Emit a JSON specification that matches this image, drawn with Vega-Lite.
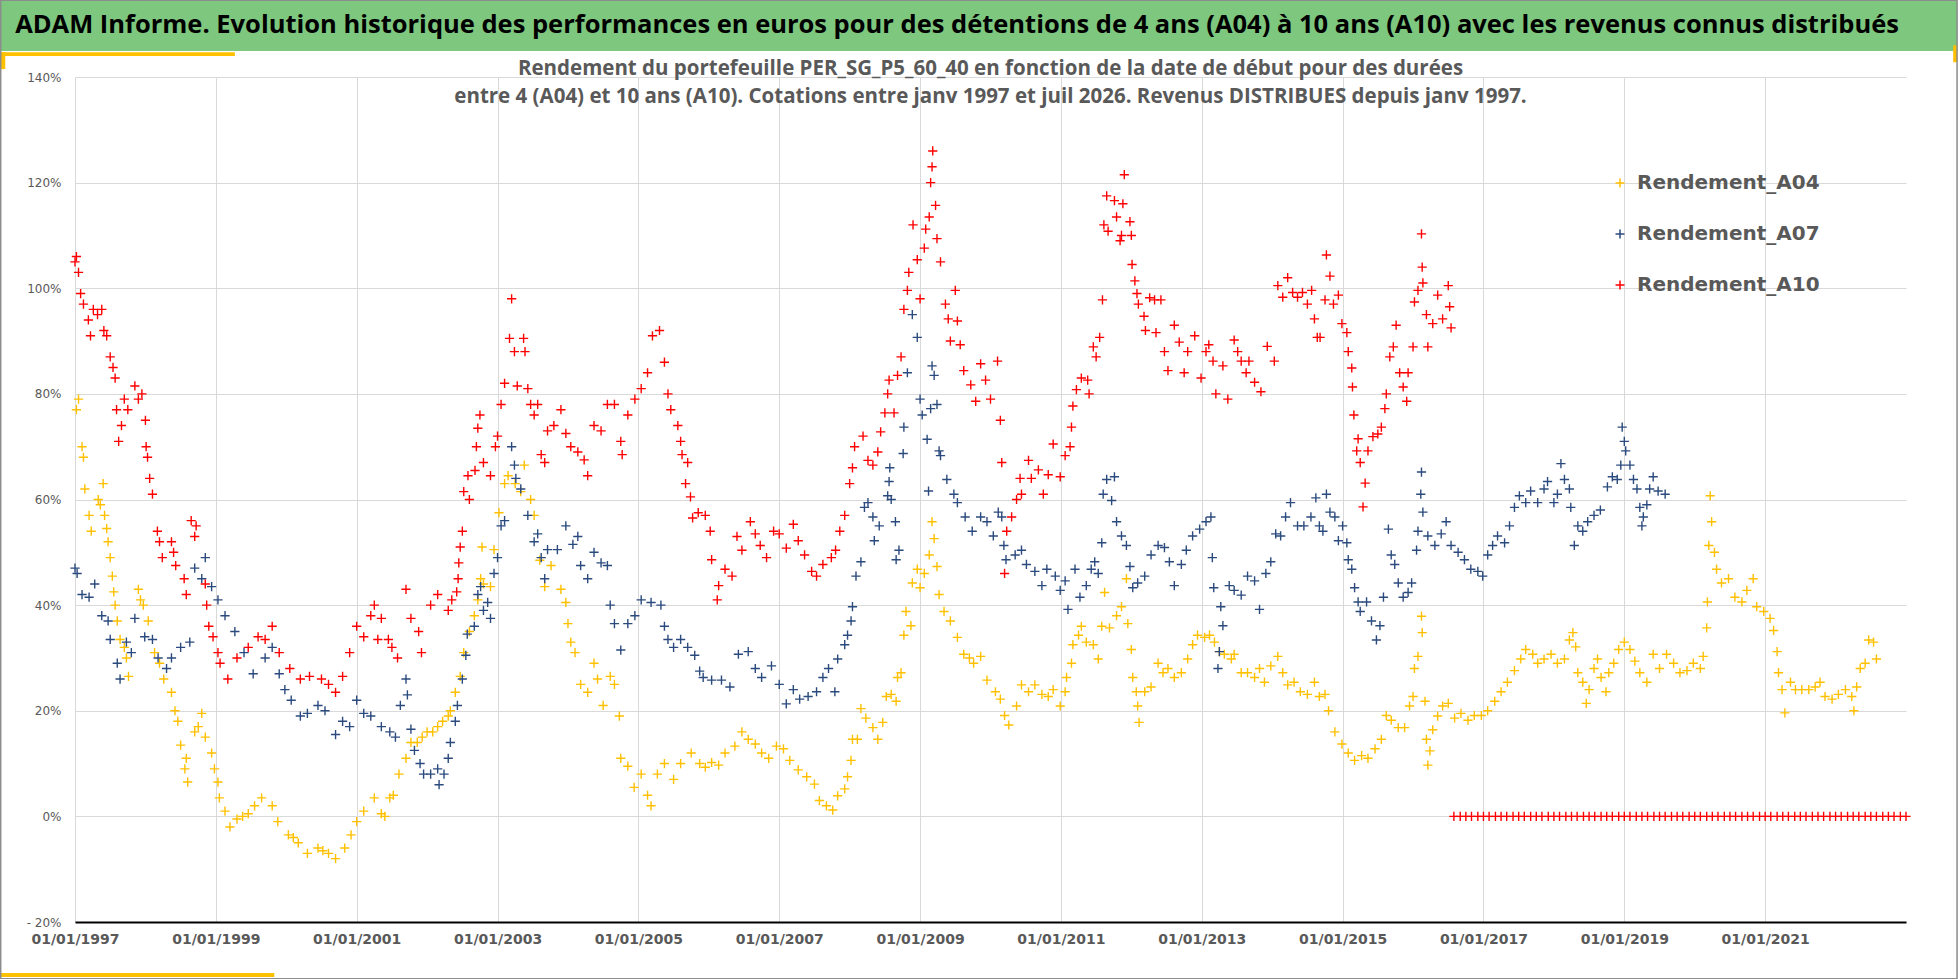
{
  "$schema": "https://vega.github.io/schema/vega-lite/v6.json",
  "width": 1831,
  "height": 845,
  "autosize": "none",
  "padding": {"left": 75, "top": 77, "right": 52, "bottom": 57},
  "background": "white",
  "config": {"view": {"stroke": null}},
  "datasets": {
    "a04": [
      {"t":1997.02,"v":77},{"t":1997.05,"v":79},{"t":1997.10,"v":70},{"t":1997.12,"v":68},{"t":1997.14,"v":62},{"t":1997.20,"v":57},{"t":1997.23,"v":54},{"t":1997.33,"v":60},{"t":1997.36,"v":59},{"t":1997.40,"v":63},{"t":1997.42,"v":57},{"t":1997.45,"v":54.5},{"t":1997.47,"v":52},{"t":1997.50,"v":49},{"t":1997.53,"v":45.5},{"t":1997.55,"v":42.5},{"t":1997.57,"v":40},{"t":1997.60,"v":37},{"t":1997.64,"v":33.5},{"t":1997.70,"v":32},{"t":1997.73,"v":30},{"t":1997.76,"v":26.5},{"t":1997.90,"v":43},{"t":1997.93,"v":41},{"t":1997.97,"v":40},{"t":1998.04,"v":37},{"t":1998.13,"v":31},{"t":1998.20,"v":29},{"t":1998.26,"v":26},{"t":1998.37,"v":23.5},{"t":1998.42,"v":20},{"t":1998.46,"v":18},{"t":1998.50,"v":13.5},{"t":1998.56,"v":9},{"t":1998.58,"v":11},{"t":1998.60,"v":6.5},{"t":1998.70,"v":16},{"t":1998.75,"v":17},{"t":1998.80,"v":19.5},{"t":1998.85,"v":15},{"t":1998.94,"v":12},{"t":1998.98,"v":9},{"t":1999.03,"v":6.5},{"t":1999.05,"v":3.5},{"t":1999.13,"v":1},{"t":1999.20,"v":-2},{"t":1999.30,"v":-0.5},{"t":1999.38,"v":0},{"t":1999.46,"v":0.5},{"t":1999.55,"v":2},{"t":1999.65,"v":3.5},{"t":1999.80,"v":2},{"t":1999.88,"v":-1},{"t":2000.03,"v":-3.5},{"t":2000.10,"v":-4},{"t":2000.17,"v":-5},{"t":2000.30,"v":-7},{"t":2000.45,"v":-6},{"t":2000.52,"v":-6.5},{"t":2000.60,"v":-7},{"t":2000.70,"v":-8},{"t":2000.83,"v":-6},{"t":2000.92,"v":-3.5},{"t":2001.00,"v":-1},{"t":2001.10,"v":1},{"t":2001.25,"v":3.5},{"t":2001.35,"v":0.5},{"t":2001.40,"v":0},{"t":2001.47,"v":3.5},{"t":2001.52,"v":4},{"t":2001.60,"v":8},{"t":2001.70,"v":11},{"t":2001.77,"v":14},{"t":2001.86,"v":14},{"t":2001.93,"v":15},{"t":2002.00,"v":16},{"t":2002.08,"v":16},{"t":2002.15,"v":17},{"t":2002.22,"v":18},{"t":2002.30,"v":19},{"t":2002.33,"v":20},{"t":2002.40,"v":23.5},{"t":2002.47,"v":26.5},{"t":2002.52,"v":31},{"t":2002.60,"v":35},{"t":2002.67,"v":38},{"t":2002.72,"v":41},{"t":2002.76,"v":45},{"t":2002.78,"v":51},{"t":2002.80,"v":44},{"t":2002.90,"v":43.5},{"t":2002.95,"v":50.5},{"t":2003.02,"v":57.5},{"t":2003.10,"v":63},{"t":2003.15,"v":64.5},{"t":2003.25,"v":63},{"t":2003.33,"v":61.5},{"t":2003.38,"v":66.5},{"t":2003.47,"v":60},{"t":2003.52,"v":57},{"t":2003.60,"v":48.5},{"t":2003.67,"v":43.5},{"t":2003.76,"v":47.5},{"t":2003.90,"v":43},{"t":2003.97,"v":40.5},{"t":2004.00,"v":36.5},{"t":2004.04,"v":33},{"t":2004.10,"v":31},{"t":2004.18,"v":25},{"t":2004.28,"v":23.5},{"t":2004.37,"v":29},{"t":2004.42,"v":26},{"t":2004.50,"v":21},{"t":2004.60,"v":26.5},{"t":2004.66,"v":25},{"t":2004.73,"v":19},{"t":2004.75,"v":11},{"t":2004.85,"v":9.5},{"t":2004.94,"v":5.5},{"t":2005.04,"v":8},{"t":2005.13,"v":4},{"t":2005.18,"v":2},{"t":2005.27,"v":8},{"t":2005.37,"v":10},{"t":2005.50,"v":7},{"t":2005.60,"v":10},{"t":2005.75,"v":12},{"t":2005.87,"v":10},{"t":2005.95,"v":9.3},{"t":2006.04,"v":10.2},{"t":2006.14,"v":9.7},{"t":2006.23,"v":12},{"t":2006.37,"v":13.3},{"t":2006.47,"v":16},{"t":2006.56,"v":14.6},{"t":2006.66,"v":13.7},{"t":2006.75,"v":12},{"t":2006.85,"v":11},{"t":2006.96,"v":13.3},{"t":2007.06,"v":12.8},{"t":2007.15,"v":10.6},{"t":2007.27,"v":8.8},{"t":2007.39,"v":7.5},{"t":2007.50,"v":6.1},{"t":2007.57,"v":3},{"t":2007.67,"v":2},{"t":2007.76,"v":1.2},{"t":2007.83,"v":3.9},{"t":2007.93,"v":5.2},{"t":2007.97,"v":7.5},{"t":2008.02,"v":10.6},{"t":2008.04,"v":14.6},{"t":2008.11,"v":14.6},{"t":2008.16,"v":20.4},{"t":2008.23,"v":18.6},{"t":2008.33,"v":16.8},{"t":2008.40,"v":14.6},{"t":2008.47,"v":17.8},{"t":2008.52,"v":22.7},{"t":2008.59,"v":23.1},{"t":2008.66,"v":21.8},{"t":2008.68,"v":26.3},{"t":2008.73,"v":27.2},{"t":2008.77,"v":34.3},{"t":2008.80,"v":38.8},{"t":2008.87,"v":36.1},{"t":2008.89,"v":44.2},{"t":2008.96,"v":46.8},{"t":2009.00,"v":43.3},{"t":2009.06,"v":46},{"t":2009.13,"v":49.5},{"t":2009.17,"v":55.8},{"t":2009.20,"v":52.6},{"t":2009.24,"v":47.3},{"t":2009.27,"v":42},{"t":2009.34,"v":38.8},{"t":2009.43,"v":37},{"t":2009.53,"v":33.9},{"t":2009.62,"v":30.7},{"t":2009.70,"v":30},{"t":2009.76,"v":29},{"t":2009.86,"v":30.3},{"t":2009.95,"v":25.8},{"t":2010.07,"v":23.6},{"t":2010.14,"v":22.2},{"t":2010.20,"v":19.1},{"t":2010.26,"v":17.3},{"t":2010.37,"v":20.9},{"t":2010.44,"v":24.9},{"t":2010.54,"v":23.6},{"t":2010.63,"v":24.9},{"t":2010.73,"v":23.1},{"t":2010.82,"v":22.7},{"t":2010.89,"v":24},{"t":2010.99,"v":20.9},{"t":2011.06,"v":23.6},{"t":2011.08,"v":26.3},{"t":2011.15,"v":29},{"t":2011.17,"v":32.5},{"t":2011.25,"v":34.3},{"t":2011.29,"v":36},{"t":2011.36,"v":33},{"t":2011.46,"v":32.5},{"t":2011.53,"v":29.8},{"t":2011.58,"v":36},{"t":2011.62,"v":42.4},{"t":2011.69,"v":35.7},{"t":2011.79,"v":38},{"t":2011.86,"v":39.7},{"t":2011.93,"v":45},{"t":2011.95,"v":36.5},{"t":2012.00,"v":31.6},{"t":2012.02,"v":26.3},{"t":2012.07,"v":23.6},{"t":2012.09,"v":20.9},{"t":2012.11,"v":17.8},{"t":2012.19,"v":23.6},{"t":2012.28,"v":24.5},{"t":2012.38,"v":29},{"t":2012.45,"v":27.2},{"t":2012.52,"v":28},{"t":2012.61,"v":26.3},{"t":2012.71,"v":27.2},{"t":2012.80,"v":29.8},{"t":2012.87,"v":32.5},{"t":2012.94,"v":34.3},{"t":2013.04,"v":33.9},{"t":2013.11,"v":34.3},{"t":2013.18,"v":33},{"t":2013.25,"v":31.2},{"t":2013.32,"v":30.7},{"t":2013.42,"v":29.8},{"t":2013.46,"v":30.7},{"t":2013.56,"v":27.2},{"t":2013.65,"v":27.2},{"t":2013.75,"v":26.3},{"t":2013.82,"v":28},{"t":2013.89,"v":25.4},{"t":2013.98,"v":28.5},{"t":2014.08,"v":30.3},{"t":2014.15,"v":27.2},{"t":2014.22,"v":24.9},{"t":2014.31,"v":25.4},{"t":2014.40,"v":23.6},{"t":2014.50,"v":23.1},{"t":2014.60,"v":25.4},{"t":2014.67,"v":22.7},{"t":2014.75,"v":23.1},{"t":2014.80,"v":20},{"t":2014.89,"v":16},{"t":2014.99,"v":13.7},{"t":2015.08,"v":12},{"t":2015.17,"v":10.6},{"t":2015.27,"v":11.5},{"t":2015.36,"v":11},{"t":2015.46,"v":12.8},{"t":2015.55,"v":14.6},{"t":2015.62,"v":19.1},{"t":2015.69,"v":18.2},{"t":2015.79,"v":16.8},{"t":2015.88,"v":16.8},{"t":2015.95,"v":20.9},{"t":2016.00,"v":22.7},{"t":2016.02,"v":28},{"t":2016.07,"v":30.3},{"t":2016.12,"v":37.9},{"t":2016.13,"v":34.8},{"t":2016.17,"v":21.8},{"t":2016.19,"v":14.6},{"t":2016.21,"v":9.7},{"t":2016.24,"v":12.4},{"t":2016.28,"v":16.4},{"t":2016.35,"v":19},{"t":2016.42,"v":20.9},{"t":2016.50,"v":21.4},{"t":2016.59,"v":18.6},{"t":2016.68,"v":19.5},{"t":2016.78,"v":18.2},{"t":2016.87,"v":19.1},{"t":2016.97,"v":19.1},{"t":2017.06,"v":20},{"t":2017.16,"v":21.8},{"t":2017.25,"v":23.6},{"t":2017.34,"v":25.4},{"t":2017.44,"v":27.6},{"t":2017.53,"v":29.8},{"t":2017.60,"v":31.6},{"t":2017.70,"v":30.7},{"t":2017.77,"v":29},{"t":2017.86,"v":29.8},{"t":2017.96,"v":30.7},{"t":2018.05,"v":29},{"t":2018.15,"v":29.8},{"t":2018.22,"v":33.4},{"t":2018.27,"v":34.8},{"t":2018.31,"v":32.1},{"t":2018.34,"v":27.2},{"t":2018.41,"v":25.4},{"t":2018.46,"v":21.4},{"t":2018.50,"v":24},{"t":2018.57,"v":28},{"t":2018.62,"v":29.8},{"t":2018.67,"v":26.3},{"t":2018.74,"v":23.6},{"t":2018.78,"v":27.2},{"t":2018.85,"v":29},{"t":2018.92,"v":31.6},{"t":2019.00,"v":33},{"t":2019.08,"v":31.6},{"t":2019.15,"v":29.4},{"t":2019.22,"v":27.2},{"t":2019.32,"v":25.4},{"t":2019.41,"v":30.7},{"t":2019.50,"v":28},{"t":2019.60,"v":30.7},{"t":2019.70,"v":29},{"t":2019.79,"v":27.2},{"t":2019.89,"v":27.6},{"t":2019.98,"v":29},{"t":2020.08,"v":28},{"t":2020.12,"v":30.3},{"t":2020.17,"v":35.7},{"t":2020.18,"v":40.6},{"t":2020.20,"v":51.3},{"t":2020.22,"v":60.7},{"t":2020.24,"v":55.8},{"t":2020.28,"v":50},{"t":2020.31,"v":46.8},{"t":2020.38,"v":44.2},{"t":2020.48,"v":45},{"t":2020.57,"v":41.5},{"t":2020.67,"v":40.6},{"t":2020.74,"v":42.8},{"t":2020.83,"v":45},{"t":2020.88,"v":39.7},{"t":2020.98,"v":38.8},{"t":2021.07,"v":37.5},{"t":2021.12,"v":35.2},{"t":2021.17,"v":31.2},{"t":2021.19,"v":27.2},{"t":2021.24,"v":24},{"t":2021.28,"v":19.6},{"t":2021.36,"v":25.4},{"t":2021.43,"v":24},{"t":2021.52,"v":24},{"t":2021.62,"v":24},{"t":2021.71,"v":24.5},{"t":2021.78,"v":25.4},{"t":2021.85,"v":22.7},{"t":2021.95,"v":22.2},{"t":2022.04,"v":23.1},{"t":2022.14,"v":24},{"t":2022.23,"v":22.7},{"t":2022.26,"v":20},{"t":2022.30,"v":24.5},{"t":2022.35,"v":28},{"t":2022.42,"v":29},{"t":2022.47,"v":33.4},{"t":2022.54,"v":33},{"t":2022.58,"v":29.8}
    ],
    "a07": [
      {"t":1997.00,"v":47},{"t":1997.03,"v":46},{"t":1997.10,"v":42},{"t":1997.20,"v":41.5},{"t":1997.28,"v":44},{"t":1997.38,"v":38},{"t":1997.47,"v":37},{"t":1997.50,"v":33.5},{"t":1997.60,"v":29},{"t":1997.64,"v":26},{"t":1997.73,"v":33},{"t":1997.80,"v":31},{"t":1997.85,"v":37.5},{"t":1997.99,"v":34},{"t":1998.10,"v":33.5},{"t":1998.18,"v":30},{"t":1998.30,"v":28},{"t":1998.37,"v":30},{"t":1998.50,"v":32},{"t":1998.63,"v":33},{"t":1998.70,"v":47},{"t":1998.80,"v":45},{"t":1998.85,"v":49},{"t":1998.94,"v":43.5},{"t":1999.03,"v":41},{"t":1999.13,"v":38},{"t":1999.27,"v":35},{"t":1999.40,"v":31},{"t":1999.53,"v":27},{"t":1999.70,"v":30},{"t":1999.80,"v":32},{"t":1999.90,"v":27},{"t":1999.98,"v":24},{"t":2000.07,"v":22},{"t":2000.20,"v":19},{"t":2000.30,"v":19.5},{"t":2000.45,"v":21},{"t":2000.55,"v":20},{"t":2000.70,"v":15.5},{"t":2000.80,"v":18},{"t":2000.90,"v":17},{"t":2001.00,"v":22},{"t":2001.10,"v":19.5},{"t":2001.20,"v":19},{"t":2001.35,"v":17},{"t":2001.47,"v":16},{"t":2001.55,"v":15},{"t":2001.62,"v":21},{"t":2001.70,"v":26},{"t":2001.72,"v":23},{"t":2001.77,"v":16.5},{"t":2001.82,"v":12.5},{"t":2001.90,"v":10},{"t":2001.95,"v":8},{"t":2002.05,"v":8},{"t":2002.15,"v":9},{"t":2002.17,"v":6},{"t":2002.24,"v":8},{"t":2002.30,"v":11},{"t":2002.33,"v":14},{"t":2002.40,"v":18},{"t":2002.43,"v":21},{"t":2002.50,"v":26},{"t":2002.55,"v":30.5},{"t":2002.57,"v":34.5},{"t":2002.67,"v":36},{"t":2002.72,"v":42},{"t":2002.76,"v":43.5},{"t":2002.80,"v":39},{"t":2002.86,"v":40.5},{"t":2002.90,"v":37.5},{"t":2002.95,"v":46},{"t":2003.00,"v":49},{"t":2003.05,"v":55},{"t":2003.10,"v":56},{"t":2003.20,"v":70},{"t":2003.24,"v":66.5},{"t":2003.26,"v":64},{"t":2003.33,"v":62},{"t":2003.43,"v":57},{"t":2003.52,"v":52},{"t":2003.57,"v":53.5},{"t":2003.62,"v":49},{"t":2003.67,"v":45},{"t":2003.71,"v":50.5},{"t":2003.85,"v":50.5},{"t":2003.97,"v":55},{"t":2004.07,"v":51.5},{"t":2004.14,"v":53},{"t":2004.18,"v":47.5},{"t":2004.28,"v":45},{"t":2004.37,"v":50},{"t":2004.47,"v":48},{"t":2004.56,"v":47.5},{"t":2004.60,"v":40},{"t":2004.66,"v":36.5},{"t":2004.75,"v":31.5},{"t":2004.85,"v":36.5},{"t":2004.95,"v":38},{"t":2005.04,"v":41},{"t":2005.18,"v":40.5},{"t":2005.32,"v":40},{"t":2005.37,"v":36},{"t":2005.42,"v":33.5},{"t":2005.50,"v":32},{"t":2005.60,"v":33.5},{"t":2005.70,"v":32},{"t":2005.80,"v":30.5},{"t":2005.87,"v":27.5},{"t":2005.92,"v":26.3},{"t":2006.04,"v":25.8},{"t":2006.18,"v":25.8},{"t":2006.30,"v":24.5},{"t":2006.42,"v":30.7},{"t":2006.56,"v":31.2},{"t":2006.66,"v":28},{"t":2006.75,"v":26.3},{"t":2006.89,"v":28.5},{"t":2007.00,"v":25},{"t":2007.10,"v":21.3},{"t":2007.20,"v":24},{"t":2007.29,"v":22.2},{"t":2007.41,"v":22.7},{"t":2007.53,"v":23.6},{"t":2007.62,"v":26.3},{"t":2007.70,"v":28},{"t":2007.79,"v":23.6},{"t":2007.83,"v":29.8},{"t":2007.93,"v":32.5},{"t":2007.97,"v":34.3},{"t":2008.02,"v":37},{"t":2008.04,"v":39.7},{"t":2008.09,"v":45.5},{"t":2008.16,"v":48.2},{"t":2008.21,"v":58.5},{"t":2008.26,"v":59.4},{"t":2008.33,"v":56.7},{"t":2008.35,"v":52.2},{"t":2008.42,"v":55},{"t":2008.54,"v":60.7},{"t":2008.56,"v":63.4},{"t":2008.57,"v":66},{"t":2008.59,"v":60},{"t":2008.65,"v":55.8},{"t":2008.66,"v":48.6},{"t":2008.70,"v":50.4},{"t":2008.76,"v":68.7},{"t":2008.77,"v":73.7},{"t":2008.82,"v":84},{"t":2008.89,"v":95},{"t":2008.96,"v":90.7},{"t":2009.00,"v":79},{"t":2009.03,"v":76},{"t":2009.10,"v":71.4},{"t":2009.12,"v":61.6},{"t":2009.15,"v":77.2},{"t":2009.17,"v":85.3},{"t":2009.20,"v":83.5},{"t":2009.24,"v":78},{"t":2009.27,"v":69.2},{"t":2009.29,"v":68.3},{"t":2009.38,"v":63.8},{"t":2009.48,"v":61},{"t":2009.53,"v":59.4},{"t":2009.64,"v":56.7},{"t":2009.74,"v":54},{"t":2009.86,"v":56.7},{"t":2009.95,"v":55.8},{"t":2010.04,"v":53.1},{"t":2010.11,"v":57.6},{"t":2010.16,"v":56.7},{"t":2010.19,"v":51.3},{"t":2010.22,"v":48.6},{"t":2010.35,"v":49.5},{"t":2010.44,"v":50.4},{"t":2010.51,"v":47.7},{"t":2010.63,"v":46.4},{"t":2010.73,"v":43.7},{"t":2010.80,"v":46.8},{"t":2010.92,"v":45.5},{"t":2010.99,"v":42.8},{"t":2011.06,"v":44.6},{"t":2011.10,"v":39.2},{"t":2011.20,"v":46.8},{"t":2011.27,"v":41.5},{"t":2011.36,"v":43.7},{"t":2011.43,"v":46.8},{"t":2011.48,"v":48.2},{"t":2011.53,"v":46},{"t":2011.58,"v":51.8},{"t":2011.60,"v":61},{"t":2011.65,"v":63.8},{"t":2011.72,"v":59.8},{"t":2011.76,"v":64.3},{"t":2011.79,"v":55.8},{"t":2011.86,"v":53.1},{"t":2011.93,"v":51.3},{"t":2011.98,"v":47.3},{"t":2012.02,"v":43.3},{"t":2012.09,"v":44.2},{"t":2012.19,"v":45.5},{"t":2012.28,"v":49.5},{"t":2012.38,"v":51.3},{"t":2012.47,"v":50.9},{"t":2012.54,"v":48.2},{"t":2012.61,"v":43.7},{"t":2012.71,"v":47.7},{"t":2012.78,"v":50.4},{"t":2012.87,"v":53.1},{"t":2012.97,"v":54.4},{"t":2013.06,"v":55.8},{"t":2013.13,"v":56.7},{"t":2013.15,"v":49},{"t":2013.17,"v":43.3},{"t":2013.23,"v":28},{"t":2013.25,"v":31.2},{"t":2013.27,"v":39.7},{"t":2013.30,"v":36.1},{"t":2013.39,"v":43.7},{"t":2013.46,"v":42.8},{"t":2013.56,"v":41.9},{"t":2013.65,"v":45.5},{"t":2013.75,"v":44.6},{"t":2013.82,"v":39.2},{"t":2013.91,"v":46},{"t":2013.98,"v":48.2},{"t":2014.05,"v":53.5},{"t":2014.12,"v":53.1},{"t":2014.19,"v":56.7},{"t":2014.26,"v":59.4},{"t":2014.36,"v":55},{"t":2014.45,"v":55},{"t":2014.55,"v":56.7},{"t":2014.62,"v":60.3},{"t":2014.67,"v":55},{"t":2014.72,"v":54},{"t":2014.77,"v":61},{"t":2014.82,"v":57.6},{"t":2014.89,"v":56.7},{"t":2014.94,"v":52.2},{"t":2015.00,"v":55},{"t":2015.06,"v":51.8},{"t":2015.08,"v":48.6},{"t":2015.13,"v":46.8},{"t":2015.17,"v":43.3},{"t":2015.22,"v":40.6},{"t":2015.25,"v":38.8},{"t":2015.34,"v":40.6},{"t":2015.41,"v":37},{"t":2015.48,"v":33.4},{"t":2015.53,"v":36.1},{"t":2015.58,"v":41.5},{"t":2015.65,"v":54.4},{"t":2015.69,"v":49.5},{"t":2015.74,"v":47.7},{"t":2015.79,"v":44.2},{"t":2015.86,"v":41.5},{"t":2015.93,"v":42.4},{"t":2015.98,"v":44.2},{"t":2016.05,"v":50.4},{"t":2016.07,"v":54},{"t":2016.11,"v":61},{"t":2016.12,"v":65.2},{"t":2016.14,"v":57.6},{"t":2016.21,"v":53.1},{"t":2016.31,"v":51.3},{"t":2016.40,"v":53.5},{"t":2016.47,"v":55.8},{"t":2016.54,"v":51.3},{"t":2016.64,"v":50},{"t":2016.73,"v":48.6},{"t":2016.82,"v":46.8},{"t":2016.92,"v":46.4},{"t":2016.99,"v":45.5},{"t":2017.06,"v":49.5},{"t":2017.13,"v":51.3},{"t":2017.20,"v":53.1},{"t":2017.30,"v":51.8},{"t":2017.37,"v":55},{"t":2017.44,"v":58.5},{"t":2017.51,"v":60.7},{"t":2017.60,"v":59.4},{"t":2017.67,"v":61.6},{"t":2017.77,"v":59.4},{"t":2017.86,"v":62},{"t":2017.91,"v":63.4},{"t":2018.00,"v":59.4},{"t":2018.05,"v":61},{"t":2018.10,"v":66.8},{"t":2018.15,"v":63.8},{"t":2018.22,"v":62},{"t":2018.24,"v":58.5},{"t":2018.29,"v":51.3},{"t":2018.34,"v":55},{"t":2018.41,"v":54},{"t":2018.48,"v":55.8},{"t":2018.57,"v":57},{"t":2018.66,"v":58},{"t":2018.76,"v":62.4},{"t":2018.83,"v":64.3},{"t":2018.90,"v":63.8},{"t":2018.95,"v":66.5},{"t":2018.97,"v":73.7},{"t":2019.00,"v":71},{"t":2019.02,"v":69.2},{"t":2019.08,"v":66.5},{"t":2019.13,"v":63.8},{"t":2019.18,"v":62},{"t":2019.22,"v":58.5},{"t":2019.25,"v":55},{"t":2019.27,"v":56.7},{"t":2019.32,"v":59},{"t":2019.36,"v":62},{"t":2019.41,"v":64.3},{"t":2019.48,"v":61.6},{"t":2019.58,"v":61}
    ],
    "a10": [
      {"t":1997.00,"v":105},{"t":1997.02,"v":106},{"t":1997.05,"v":103},{"t":1997.08,"v":99},{"t":1997.12,"v":97},{"t":1997.19,"v":94},{"t":1997.22,"v":91},{"t":1997.26,"v":96},{"t":1997.32,"v":95},{"t":1997.38,"v":96},{"t":1997.41,"v":92},{"t":1997.45,"v":91},{"t":1997.50,"v":87},{"t":1997.54,"v":85},{"t":1997.57,"v":83},{"t":1997.59,"v":77},{"t":1997.62,"v":71},{"t":1997.66,"v":74},{"t":1997.70,"v":79},{"t":1997.75,"v":77},{"t":1997.85,"v":81.5},{"t":1997.90,"v":79},{"t":1997.95,"v":80},{"t":1998.00,"v":75},{"t":1998.01,"v":70},{"t":1998.03,"v":68},{"t":1998.06,"v":64},{"t":1998.10,"v":61},{"t":1998.17,"v":54},{"t":1998.20,"v":52},{"t":1998.24,"v":49},{"t":1998.37,"v":52},{"t":1998.40,"v":50},{"t":1998.43,"v":47.5},{"t":1998.55,"v":45},{"t":1998.58,"v":42},{"t":1998.65,"v":56},{"t":1998.70,"v":53},{"t":1998.72,"v":55},{"t":1998.85,"v":44},{"t":1998.87,"v":40},{"t":1998.90,"v":36},{"t":1998.96,"v":34},{"t":1999.03,"v":31},{"t":1999.06,"v":29},{"t":1999.17,"v":26},{"t":1999.30,"v":30},{"t":1999.46,"v":32},{"t":1999.60,"v":34},{"t":1999.70,"v":33.5},{"t":1999.80,"v":36},{"t":1999.90,"v":31},{"t":2000.05,"v":28},{"t":2000.20,"v":26},{"t":2000.33,"v":26.5},{"t":2000.50,"v":26},{"t":2000.60,"v":25},{"t":2000.70,"v":23.5},{"t":2000.80,"v":26.5},{"t":2000.90,"v":31},{"t":2001.00,"v":36},{"t":2001.10,"v":34},{"t":2001.20,"v":38},{"t":2001.25,"v":40},{"t":2001.30,"v":33.5},{"t":2001.35,"v":37.5},{"t":2001.45,"v":33.5},{"t":2001.50,"v":32},{"t":2001.58,"v":30},{"t":2001.70,"v":43},{"t":2001.77,"v":37.5},{"t":2001.88,"v":35},{"t":2001.92,"v":31},{"t":2002.05,"v":40},{"t":2002.15,"v":42},{"t":2002.30,"v":39},{"t":2002.35,"v":41},{"t":2002.42,"v":42.5},{"t":2002.44,"v":45},{"t":2002.45,"v":48},{"t":2002.47,"v":51},{"t":2002.50,"v":54},{"t":2002.52,"v":61.5},{"t":2002.58,"v":64.5},{"t":2002.60,"v":60},{"t":2002.68,"v":65.5},{"t":2002.70,"v":70},{"t":2002.72,"v":73.5},{"t":2002.75,"v":76},{"t":2002.80,"v":67},{"t":2002.90,"v":64.5},{"t":2002.97,"v":70},{"t":2003.00,"v":72},{"t":2003.05,"v":78},{"t":2003.10,"v":82},{"t":2003.17,"v":90.5},{"t":2003.20,"v":98},{"t":2003.24,"v":88},{"t":2003.28,"v":81.5},{"t":2003.37,"v":90.5},{"t":2003.39,"v":88},{"t":2003.43,"v":81},{"t":2003.47,"v":78},{"t":2003.52,"v":76},{"t":2003.57,"v":78},{"t":2003.62,"v":68.5},{"t":2003.67,"v":67},{"t":2003.71,"v":73},{"t":2003.80,"v":74},{"t":2003.90,"v":77},{"t":2003.97,"v":72.5},{"t":2004.04,"v":70},{"t":2004.14,"v":69},{"t":2004.23,"v":67.5},{"t":2004.28,"v":64.5},{"t":2004.37,"v":74},{"t":2004.47,"v":73},{"t":2004.56,"v":78},{"t":2004.66,"v":78},{"t":2004.75,"v":71},{"t":2004.77,"v":68.5},{"t":2004.85,"v":76},{"t":2004.95,"v":79},{"t":2005.04,"v":81},{"t":2005.13,"v":84},{"t":2005.20,"v":91},{"t":2005.30,"v":92},{"t":2005.37,"v":86},{"t":2005.42,"v":80},{"t":2005.46,"v":77},{"t":2005.56,"v":74},{"t":2005.60,"v":71},{"t":2005.62,"v":68.5},{"t":2005.67,"v":63},{"t":2005.70,"v":67},{"t":2005.74,"v":60.5},{"t":2005.77,"v":56.5},{"t":2005.85,"v":57.5},{"t":2005.95,"v":57},{"t":2006.02,"v":54},{"t":2006.04,"v":48.6},{"t":2006.12,"v":41},{"t":2006.14,"v":43.7},{"t":2006.23,"v":46.8},{"t":2006.33,"v":45.5},{"t":2006.40,"v":53},{"t":2006.47,"v":50.4},{"t":2006.59,"v":55.8},{"t":2006.66,"v":53.5},{"t":2006.73,"v":51.3},{"t":2006.82,"v":49},{"t":2006.92,"v":54},{"t":2007.00,"v":53.5},{"t":2007.10,"v":50.8},{"t":2007.20,"v":55.3},{"t":2007.27,"v":52.2},{"t":2007.36,"v":49.5},{"t":2007.46,"v":46.4},{"t":2007.53,"v":45.5},{"t":2007.62,"v":47.7},{"t":2007.74,"v":49},{"t":2007.80,"v":50.4},{"t":2007.86,"v":54},{"t":2007.93,"v":57},{"t":2008.00,"v":63},{"t":2008.04,"v":66},{"t":2008.07,"v":70},{"t":2008.19,"v":72},{"t":2008.26,"v":67.4},{"t":2008.33,"v":66.5},{"t":2008.40,"v":69},{"t":2008.44,"v":72.8},{"t":2008.50,"v":76.4},{"t":2008.54,"v":80},{"t":2008.56,"v":82.6},{"t":2008.63,"v":76.4},{"t":2008.68,"v":83.5},{"t":2008.73,"v":87},{"t":2008.77,"v":96},{"t":2008.82,"v":99.6},{"t":2008.84,"v":103},{"t":2008.90,"v":112},{"t":2008.96,"v":105.4},{"t":2009.00,"v":98},{"t":2009.06,"v":107.6},{"t":2009.08,"v":111.2},{"t":2009.13,"v":113.5},{"t":2009.15,"v":120},{"t":2009.17,"v":123},{"t":2009.18,"v":126},{"t":2009.22,"v":115.7},{"t":2009.24,"v":109.4},{"t":2009.29,"v":105},{"t":2009.36,"v":97},{"t":2009.40,"v":94.2},{"t":2009.43,"v":90},{"t":2009.50,"v":99.6},{"t":2009.53,"v":93.8},{"t":2009.57,"v":89.3},{"t":2009.62,"v":84.4},{"t":2009.72,"v":81.7},{"t":2009.79,"v":78.6},{"t":2009.86,"v":85.7},{"t":2009.93,"v":82.6},{"t":2010.00,"v":79},{"t":2010.10,"v":86.2},{"t":2010.14,"v":75},{"t":2010.16,"v":67},{"t":2010.20,"v":46},{"t":2010.23,"v":54},{"t":2010.30,"v":56.7},{"t":2010.37,"v":60},{"t":2010.42,"v":64},{"t":2010.44,"v":61},{"t":2010.54,"v":67.4},{"t":2010.58,"v":64},{"t":2010.68,"v":65.6},{"t":2010.75,"v":61},{"t":2010.82,"v":64.7},{"t":2010.89,"v":70.5},{"t":2010.99,"v":64.3},{"t":2011.06,"v":68.3},{"t":2011.13,"v":70},{"t":2011.15,"v":73.7},{"t":2011.17,"v":77.7},{"t":2011.22,"v":80.8},{"t":2011.29,"v":83},{"t":2011.38,"v":82.6},{"t":2011.40,"v":80},{"t":2011.46,"v":88.9},{"t":2011.50,"v":87},{"t":2011.55,"v":90.7},{"t":2011.59,"v":97.8},{"t":2011.61,"v":112},{"t":2011.65,"v":117.5},{"t":2011.67,"v":110.8},{"t":2011.76,"v":116.6},{"t":2011.79,"v":113.5},{"t":2011.84,"v":109},{"t":2011.86,"v":110},{"t":2011.88,"v":116},{"t":2011.90,"v":121.5},{"t":2011.98,"v":112.6},{"t":2012.00,"v":110},{"t":2012.01,"v":104.5},{"t":2012.05,"v":101.4},{"t":2012.08,"v":99},{"t":2012.10,"v":97},{"t":2012.18,"v":94.7},{"t":2012.20,"v":92},{"t":2012.26,"v":98.2},{"t":2012.33,"v":97.8},{"t":2012.35,"v":91.6},{"t":2012.42,"v":97.8},{"t":2012.47,"v":88},{"t":2012.52,"v":84.4},{"t":2012.61,"v":93},{"t":2012.68,"v":89.8},{"t":2012.75,"v":84},{"t":2012.80,"v":88},{"t":2012.90,"v":91},{"t":2012.99,"v":83},{"t":2013.06,"v":88},{"t":2013.10,"v":89.3},{"t":2013.16,"v":86.2},{"t":2013.20,"v":80},{"t":2013.30,"v":85.3},{"t":2013.37,"v":79},{"t":2013.46,"v":90.2},{"t":2013.51,"v":88},{"t":2013.56,"v":86.2},{"t":2013.63,"v":84},{"t":2013.67,"v":86.2},{"t":2013.75,"v":82.2},{"t":2013.84,"v":80.4},{"t":2013.93,"v":89},{"t":2014.03,"v":86.2},{"t":2014.08,"v":100.5},{"t":2014.15,"v":98.3},{"t":2014.22,"v":102},{"t":2014.29,"v":99.2},{"t":2014.36,"v":98.3},{"t":2014.43,"v":99.2},{"t":2014.50,"v":97},{"t":2014.56,"v":99.6},{"t":2014.60,"v":94.2},{"t":2014.64,"v":90.7},{"t":2014.68,"v":90.7},{"t":2014.75,"v":97.8},{"t":2014.77,"v":106.3},{"t":2014.82,"v":102.3},{"t":2014.87,"v":97},{"t":2014.94,"v":98.7},{"t":2014.99,"v":93.3},{"t":2015.06,"v":91.6},{"t":2015.08,"v":88},{"t":2015.13,"v":84.9},{"t":2015.14,"v":81.3},{"t":2015.16,"v":76},{"t":2015.20,"v":69.2},{"t":2015.22,"v":71.5},{"t":2015.25,"v":67},{"t":2015.29,"v":58.6},{"t":2015.32,"v":63.1},{"t":2015.36,"v":69.2},{"t":2015.43,"v":71.9},{"t":2015.50,"v":72.4},{"t":2015.55,"v":73.7},{"t":2015.60,"v":77.2},{"t":2015.62,"v":80},{"t":2015.67,"v":87},{"t":2015.72,"v":88.9},{"t":2015.76,"v":93},{"t":2015.81,"v":84},{"t":2015.86,"v":81.3},{"t":2015.91,"v":78.6},{"t":2015.93,"v":84},{"t":2016.00,"v":88.9},{"t":2016.02,"v":97.4},{"t":2016.07,"v":99.6},{"t":2016.12,"v":110.3},{"t":2016.13,"v":104},{"t":2016.14,"v":101},{"t":2016.19,"v":95},{"t":2016.21,"v":88.9},{"t":2016.28,"v":93.3},{"t":2016.35,"v":98.7},{"t":2016.42,"v":94.2},{"t":2016.50,"v":100.5},{"t":2016.52,"v":96.5},{"t":2016.54,"v":92.5},
      {"t":2016.58,"v":0},{"t":2016.67,"v":0},{"t":2016.75,"v":0},{"t":2016.83,"v":0},{"t":2016.92,"v":0},
      {"t":2017.00,"v":0},{"t":2017.08,"v":0},{"t":2017.17,"v":0},{"t":2017.25,"v":0},{"t":2017.33,"v":0},{"t":2017.42,"v":0},{"t":2017.50,"v":0},{"t":2017.58,"v":0},{"t":2017.67,"v":0},{"t":2017.75,"v":0},{"t":2017.83,"v":0},{"t":2017.92,"v":0},
      {"t":2018.00,"v":0},{"t":2018.08,"v":0},{"t":2018.17,"v":0},{"t":2018.25,"v":0},{"t":2018.33,"v":0},{"t":2018.42,"v":0},{"t":2018.50,"v":0},{"t":2018.58,"v":0},{"t":2018.67,"v":0},{"t":2018.75,"v":0},{"t":2018.83,"v":0},{"t":2018.92,"v":0},
      {"t":2019.00,"v":0},{"t":2019.08,"v":0},{"t":2019.17,"v":0},{"t":2019.25,"v":0},{"t":2019.33,"v":0},{"t":2019.42,"v":0},{"t":2019.50,"v":0},{"t":2019.58,"v":0},{"t":2019.67,"v":0},{"t":2019.75,"v":0},{"t":2019.83,"v":0},{"t":2019.92,"v":0},
      {"t":2020.00,"v":0},{"t":2020.08,"v":0},{"t":2020.17,"v":0},{"t":2020.25,"v":0},{"t":2020.33,"v":0},{"t":2020.42,"v":0},{"t":2020.50,"v":0},{"t":2020.58,"v":0},{"t":2020.67,"v":0},{"t":2020.75,"v":0},{"t":2020.83,"v":0},{"t":2020.92,"v":0},
      {"t":2021.00,"v":0},{"t":2021.08,"v":0},{"t":2021.17,"v":0},{"t":2021.25,"v":0},{"t":2021.33,"v":0},{"t":2021.42,"v":0},{"t":2021.50,"v":0},{"t":2021.58,"v":0},{"t":2021.67,"v":0},{"t":2021.75,"v":0},{"t":2021.83,"v":0},{"t":2021.92,"v":0},
      {"t":2022.00,"v":0},{"t":2022.08,"v":0},{"t":2022.17,"v":0},{"t":2022.25,"v":0},{"t":2022.33,"v":0},{"t":2022.42,"v":0},{"t":2022.50,"v":0},{"t":2022.58,"v":0},{"t":2022.67,"v":0},{"t":2022.75,"v":0},{"t":2022.83,"v":0},{"t":2022.92,"v":0},
      {"t":2023.00,"v":0}
    ]
  },
  "layer": [
    {
      "data": {"name": "a04"},
      "mark": {"type": "point", "shape": "M-1,0L1,0M0,-1L0,1", "filled": false, "strokeWidth": 1.4, "size": 85, "opacity": 1},
      "encoding": {
        "x": {"field": "t", "type": "quantitative", "scale": {"domain": [1997, 2023], "nice": false},
          "axis": {"title": null, "values": [1997, 1999, 2001, 2003, 2005, 2007, 2009, 2011, 2013, 2015, 2017, 2019, 2021], "labelExpr": "'01/01/' + datum.value", "grid": true, "gridColor": "#D9D9D9", "gridWidth": 1, "domainColor": "#000000", "domainWidth": 2, "ticks": false, "labelFont": "DejaVu Sans", "labelFontWeight": "bold", "labelFontSize": 14, "labelColor": "#595959", "labelPadding": 10, "labelFlush": false, "labelOverlap": false}},
        "y": {"field": "v", "type": "quantitative", "scale": {"domain": [-20, 140], "nice": false},
          "axis": {"title": null, "values": [-20, 0, 20, 40, 60, 80, 100, 120, 140], "labelExpr": "datum.value < 0 ? '- ' + abs(datum.value) + '%' : datum.value + '%'", "grid": true, "gridColor": "#D9D9D9", "gridWidth": 1, "domain": false, "ticks": false, "labelFont": "DejaVu Sans", "labelFontSize": 12, "labelColor": "#595959", "labelPadding": 14}},
        "color": {"datum": "A04", "type": "nominal",
          "scale": {"domain": ["A04", "A07", "A10"], "range": ["#FFC000", "#2B4A7E", "#FF0000"]},
          "legend": {"orient": "none", "legendX": 1535, "legendY": 96, "title": null, "labelExpr": "'Rendement_' + datum.label", "labelLimit": 0, "labelFont": "DejaVu Sans", "labelFontWeight": "bold", "labelFontSize": 20, "labelColor": "#595959", "symbolType": "M-1,0L1,0M0,-1L0,1", "symbolSize": 80, "symbolStrokeWidth": 1.5, "symbolFillColor": "transparent", "rowPadding": 31, "labelOffset": 7, "padding": 0}}
      }
    },
    {
      "data": {"name": "a07"},
      "mark": {"type": "point", "shape": "M-1,0L1,0M0,-1L0,1", "filled": false, "strokeWidth": 1.4, "size": 85, "opacity": 1},
      "encoding": {
        "x": {"field": "t", "type": "quantitative", "scale": {"domain": [1997, 2023], "nice": false},
          "axis": {"title": null, "values": [1997, 1999, 2001, 2003, 2005, 2007, 2009, 2011, 2013, 2015, 2017, 2019, 2021], "labelExpr": "'01/01/' + datum.value", "grid": true, "gridColor": "#D9D9D9", "gridWidth": 1, "domainColor": "#000000", "domainWidth": 2, "ticks": false, "labelFont": "DejaVu Sans", "labelFontWeight": "bold", "labelFontSize": 14, "labelColor": "#595959", "labelPadding": 10, "labelFlush": false, "labelOverlap": false}},
        "y": {"field": "v", "type": "quantitative", "scale": {"domain": [-20, 140], "nice": false},
          "axis": {"title": null, "values": [-20, 0, 20, 40, 60, 80, 100, 120, 140], "labelExpr": "datum.value < 0 ? '- ' + abs(datum.value) + '%' : datum.value + '%'", "grid": true, "gridColor": "#D9D9D9", "gridWidth": 1, "domain": false, "ticks": false, "labelFont": "DejaVu Sans", "labelFontSize": 12, "labelColor": "#595959", "labelPadding": 14}},
        "color": {"datum": "A07", "type": "nominal",
          "scale": {"domain": ["A04", "A07", "A10"], "range": ["#FFC000", "#2B4A7E", "#FF0000"]},
          "legend": {"orient": "none", "legendX": 1535, "legendY": 96, "title": null, "labelExpr": "'Rendement_' + datum.label", "labelLimit": 0, "labelFont": "DejaVu Sans", "labelFontWeight": "bold", "labelFontSize": 20, "labelColor": "#595959", "symbolType": "M-1,0L1,0M0,-1L0,1", "symbolSize": 80, "symbolStrokeWidth": 1.5, "symbolFillColor": "transparent", "rowPadding": 31, "labelOffset": 7, "padding": 0}}
      }
    },
    {
      "data": {"name": "a10"},
      "mark": {"type": "point", "shape": "M-1,0L1,0M0,-1L0,1", "filled": false, "strokeWidth": 1.4, "size": 85, "opacity": 1},
      "encoding": {
        "x": {"field": "t", "type": "quantitative", "scale": {"domain": [1997, 2023], "nice": false},
          "axis": {"title": null, "values": [1997, 1999, 2001, 2003, 2005, 2007, 2009, 2011, 2013, 2015, 2017, 2019, 2021], "labelExpr": "'01/01/' + datum.value", "grid": true, "gridColor": "#D9D9D9", "gridWidth": 1, "domainColor": "#000000", "domainWidth": 2, "ticks": false, "labelFont": "DejaVu Sans", "labelFontWeight": "bold", "labelFontSize": 14, "labelColor": "#595959", "labelPadding": 10, "labelFlush": false, "labelOverlap": false}},
        "y": {"field": "v", "type": "quantitative", "scale": {"domain": [-20, 140], "nice": false},
          "axis": {"title": null, "values": [-20, 0, 20, 40, 60, 80, 100, 120, 140], "labelExpr": "datum.value < 0 ? '- ' + abs(datum.value) + '%' : datum.value + '%'", "grid": true, "gridColor": "#D9D9D9", "gridWidth": 1, "domain": false, "ticks": false, "labelFont": "DejaVu Sans", "labelFontSize": 12, "labelColor": "#595959", "labelPadding": 14}},
        "color": {"datum": "A10", "type": "nominal",
          "scale": {"domain": ["A04", "A07", "A10"], "range": ["#FFC000", "#2B4A7E", "#FF0000"]},
          "legend": {"orient": "none", "legendX": 1535, "legendY": 96, "title": null, "labelExpr": "'Rendement_' + datum.label", "labelLimit": 0, "labelFont": "DejaVu Sans", "labelFontWeight": "bold", "labelFontSize": 20, "labelColor": "#595959", "symbolType": "M-1,0L1,0M0,-1L0,1", "symbolSize": 80, "symbolStrokeWidth": 1.5, "symbolFillColor": "transparent", "rowPadding": 31, "labelOffset": 7, "padding": 0}}
      }
    },
    {
      "data": {"values": [{}]},
      "mark": {"type": "rect", "color": "#7DC77F"},
      "encoding": {
        "x": {"datum": 1995.94, "type": "quantitative", "scale": {"domain": [1997, 2023], "nice": false}},
        "x2": {"datum": 2023.73},
        "y": {"datum": 154.6, "type": "quantitative", "scale": {"domain": [-20, 140], "nice": false}},
        "y2": {"datum": 144.9}
      }
    },
    {
      "data": {"values": [{}]},
      "mark": {"type": "rect", "color": "#FFC000"},
      "encoding": {
        "x": {"datum": 1995.94, "type": "quantitative", "scale": {"domain": [1997, 2023], "nice": false}},
        "x2": {"datum": 1999.27},
        "y": {"datum": 144.7, "type": "quantitative", "scale": {"domain": [-20, 140], "nice": false}},
        "y2": {"datum": 144.0}
      }
    },
    {
      "data": {"values": [{}]},
      "mark": {"type": "rect", "color": "#FFC000"},
      "encoding": {
        "x": {"datum": 1995.94, "type": "quantitative", "scale": {"domain": [1997, 2023], "nice": false}},
        "x2": {"datum": 1996.01},
        "y": {"datum": 144.7, "type": "quantitative", "scale": {"domain": [-20, 140], "nice": false}},
        "y2": {"datum": 141.5}
      }
    },
    {
      "data": {"values": [{}]},
      "mark": {"type": "rect", "color": "#FFC000"},
      "encoding": {
        "x": {"datum": 2023.67, "type": "quantitative", "scale": {"domain": [1997, 2023], "nice": false}},
        "x2": {"datum": 2023.73},
        "y": {"datum": 146.0, "type": "quantitative", "scale": {"domain": [-20, 140], "nice": false}},
        "y2": {"datum": 142.8}
      }
    },
    {
      "data": {"values": [{}]},
      "mark": {"type": "rect", "color": "#FFC000"},
      "encoding": {
        "x": {"datum": 1995.94, "type": "quantitative", "scale": {"domain": [1997, 2023], "nice": false}},
        "x2": {"datum": 1999.83},
        "y": {"datum": -29.66, "type": "quantitative", "scale": {"domain": [-20, 140], "nice": false}},
        "y2": {"datum": -30.4}
      }
    },
    {
      "data": {"values": [{}]},
      "mark": {"type": "rect", "fill": null, "fillOpacity": 0, "stroke": "#8C8C8C", "strokeWidth": 1.5},
      "encoding": {
        "x": {"datum": 1995.945, "type": "quantitative", "scale": {"domain": [1997, 2023], "nice": false}},
        "x2": {"datum": 2023.725},
        "y": {"datum": 154.55, "type": "quantitative", "scale": {"domain": [-20, 140], "nice": false}},
        "y2": {"datum": -30.75}
      }
    },
    {
      "data": {"values": [{}]},
      "mark": {"type": "text", "text": "ADAM Informe. Evolution historique des performances en euros pour des détentions de 4 ans (A04) à 10 ans (A10) avec les revenus connus distribués", "align": "left", "baseline": "middle", "font": "Open Sans", "fontWeight": "bold", "fontSize": 25.5, "color": "#000000"},
      "encoding": {
        "x": {"datum": 1996.15, "type": "quantitative", "scale": {"domain": [1997, 2023], "nice": false}},
        "y": {"datum": 149.85, "type": "quantitative", "scale": {"domain": [-20, 140], "nice": false}}
      }
    },
    {
      "data": {"values": [{}]},
      "mark": {"type": "text", "text": "Rendement du portefeuille PER_SG_P5_60_40  en fonction de la date de début pour des durées", "align": "center", "baseline": "middle", "font": "Open Sans", "fontWeight": "bold", "fontSize": 20.5, "color": "#595959"},
      "encoding": {
        "x": {"datum": 2010.0, "type": "quantitative", "scale": {"domain": [1997, 2023], "nice": false}},
        "y": {"datum": 141.6, "type": "quantitative", "scale": {"domain": [-20, 140], "nice": false}}
      }
    },
    {
      "data": {"values": [{}]},
      "mark": {"type": "text", "text": "entre 4 (A04) et 10 ans (A10). Cotations entre janv 1997 et juil 2026. Revenus DISTRIBUES depuis janv 1997.", "align": "center", "baseline": "middle", "font": "Open Sans", "fontWeight": "bold", "fontSize": 20.5, "color": "#595959"},
      "encoding": {
        "x": {"datum": 2010.0, "type": "quantitative", "scale": {"domain": [1997, 2023], "nice": false}},
        "y": {"datum": 136.3, "type": "quantitative", "scale": {"domain": [-20, 140], "nice": false}}
      }
    }
  ]
}
